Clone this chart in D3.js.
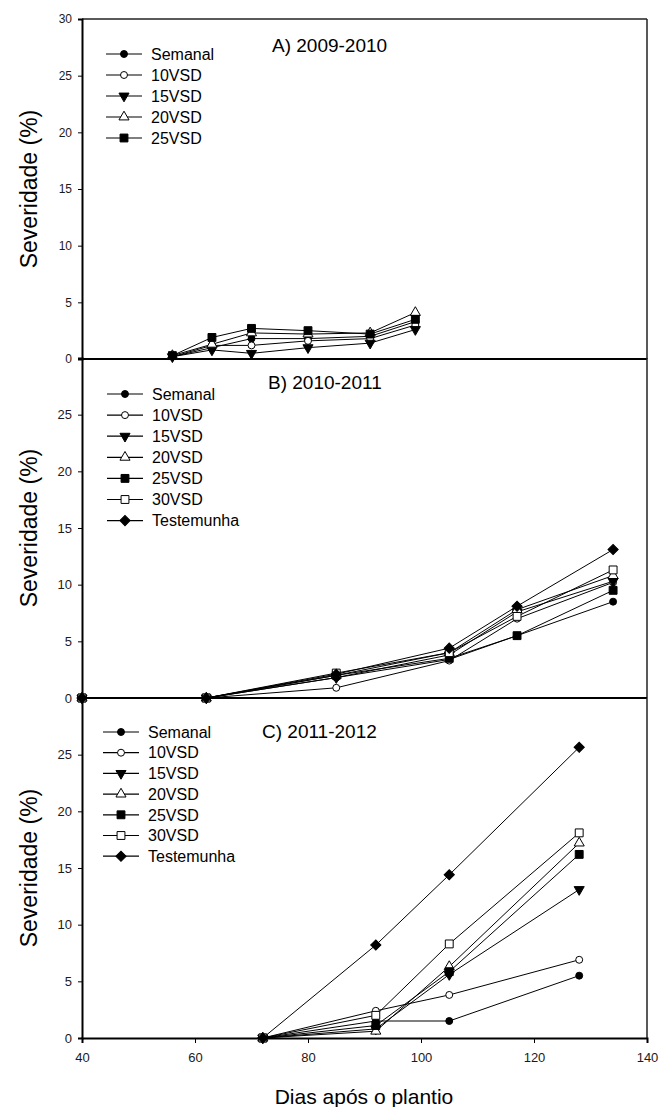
<!DOCTYPE html>
<html>
<head>
<meta charset="utf-8">
<script src="https://cdn.jsdelivr.net/npm/d3@7"></script>
<style>
  html, body { margin: 0; padding: 0; background: #fff; }
  svg { display: block; font-family: "Liberation Sans", Arial, sans-serif; }
</style>
</head>
<body>
<svg id="chart" width="659" height="1107"></svg>
<script>
// ---------- DATA ----------
const seriesNames = ["Semanal", "10VSD", "15VSD", "20VSD", "25VSD", "30VSD", "Testemunha"];
const seriesSymbols = ["circle", "circleOpen", "triDown", "triOpen", "square", "squareOpen", "diamond"];

const xTicks = [40, 60, 80, 100, 120, 140];
const yTicksA = [0, 5, 10, 15, 20, 25, 30];
const yTicksBC = [0, 5, 10, 15, 20, 25];

// Panel A) 2009-2010
const panelTitleA = "A) 2009-2010";
const daysA = [56, 63, 70, 80, 91, 99];
const valuesA = [
  [0.2, 1.0, 1.8, 1.8, 2.0, 3.3],   // Semanal
  [0.2, 1.2, 1.2, 1.6, 1.8, 3.0],   // 10VSD
  [0.2, 0.8, 0.5, 1.0, 1.4, 2.6],   // 15VSD
  [0.3, 1.3, 2.3, 2.2, 2.3, 4.1],   // 20VSD
  [0.3, 1.9, 2.7, 2.5, 2.2, 3.5]    // 25VSD
];

// Panel B) 2010-2011
const panelTitleB = "B) 2010-2011";
const daysB = [40, 62, 85, 105, 117, 134];
const valuesB = [
  [0, 0, 1.8, 3.4, 5.5, 8.5],    // Semanal
  [0, 0, 0.9, 3.3, 7.0, 10.2],   // 10VSD
  [0, 0, 1.8, 3.8, 7.6, 10.3],   // 15VSD
  [0, 0, 2.0, 4.0, 7.8, 10.8],   // 20VSD
  [0, 0, 2.0, 3.5, 5.5, 9.5],    // 25VSD
  [0, 0, 2.2, 4.0, 7.2, 11.3],   // 30VSD
  [0, 0, 2.1, 4.4, 8.1, 13.1]    // Testemunha
];

// Panel C) 2011-2012
const panelTitleC = "C) 2011-2012";
const daysC = [72, 92, 105, 128];
const valuesC = [
  [0, 1.5, 1.5, 5.5],     // Semanal
  [0, 2.4, 3.8, 6.9],     // 10VSD
  [0, 0.8, 5.6, 13.1],    // 15VSD
  [0, 0.6, 6.3, 17.2],    // 20VSD
  [0, 1.1, 5.85, 16.2],   // 25VSD
  [0, 2.0, 8.3, 18.1],    // 30VSD
  [0, 8.2, 14.4, 25.65]   // Testemunha
];

// ---------- LAYOUT ----------
const svg = d3.select("#chart");
const left = 82, right = 647;
const x = d3.scaleLinear().domain([40, 140]).range([left, right]);

const panels = [
  { title: panelTitleA, days: daysA, values: valuesA, top: 19, bottom: 359, ticks: yTicksA,
    titleX: 272, titleY: 52, legX: 106, legY: 54, legStep: 21, tickFont: 12 },
  { title: panelTitleB, days: daysB, values: valuesB, top: 358, bottom: 698, ticks: yTicksBC,
    titleX: 268, titleY: 389, legX: 107, legY: 394, legStep: 21.1, tickFont: 13 },
  { title: panelTitleC, days: daysC, values: valuesC, top: 698, bottom: 1038, ticks: yTicksBC,
    titleX: 262, titleY: 738, legX: 103, legY: 732, legStep: 20.7, tickFont: 13 }
];

function symbolPath(kind) {
  switch (kind) {
    case "circle": case "circleOpen": return d3.symbol().type(d3.symbolCircle).size(38)();
    case "triDown": case "triOpen": return d3.symbol().type(d3.symbolTriangle).size(44)();
    case "square": case "squareOpen": return d3.symbol().type(d3.symbolSquare).size(62)();
    case "diamond": return d3.symbol().type(d3.symbolSquare).size(52)();
  }
}
function symbolTransform(kind, px, py) {
  let t = `translate(${px},${py})`;
  if (kind === "triDown") t += " rotate(180)";
  if (kind === "diamond") t += " rotate(45)";
  return t;
}
function isOpen(kind) { return kind.endsWith("Open"); }

panels.forEach((p, pi) => {
  const y = d3.scaleLinear().domain([0, 30]).range([p.bottom, p.top]);
  const g = svg.append("g");

  // frame: right border (and top border for panel A)
  g.append("line").attr("x1", right).attr("x2", right).attr("y1", p.top).attr("y2", p.bottom)
    .attr("stroke", "#222").attr("stroke-width", 1.5);
  if (pi === 0) {
    g.append("line").attr("x1", left).attr("x2", right).attr("y1", p.top).attr("y2", p.top)
      .attr("stroke", "#222").attr("stroke-width", 1.5);
  }

  // y axis
  const yAxis = d3.axisLeft(y).tickValues(p.ticks).tickSize(4).tickPadding(6).tickFormat(d3.format("d"));
  const ya = g.append("g").attr("transform", `translate(${left},0)`).call(yAxis);
  ya.select(".domain").attr("stroke", "#000").attr("stroke-width", 2);
  ya.selectAll(".tick line").attr("stroke", "#000");
  ya.selectAll(".tick text").attr("font-size", p.tickFont).attr("fill", "#1a1a22")
    .attr("font-family", "'Liberation Sans', Arial, sans-serif");

  // x axis (bottom line); ticks/labels only on last panel
  if (pi === 2) {
    const xAxis = d3.axisBottom(x).tickValues(xTicks).tickSize(5).tickPadding(10).tickFormat(d3.format("d"));
    const xa = g.append("g").attr("transform", `translate(0,${p.bottom})`).call(xAxis);
    xa.select(".domain").attr("stroke", "#000").attr("stroke-width", 2);
    xa.selectAll(".tick line").attr("stroke", "#000");
    xa.selectAll(".tick text").attr("font-size", 13).attr("fill", "#1a1a22")
      .attr("font-family", "'Liberation Sans', Arial, sans-serif");
  } else {
    g.append("line").attr("x1", left).attr("x2", right).attr("y1", p.bottom).attr("y2", p.bottom)
      .attr("stroke", "#000").attr("stroke-width", 2);
  }

  // y axis title
  g.append("text")
    .attr("transform", `translate(37,${(p.top + p.bottom) / 2}) rotate(-90)`)
    .attr("text-anchor", "middle").attr("font-size", 23).attr("fill", "#000")
    .text("Severidade (%)");

  // panel title
  g.append("text").attr("x", p.titleX).attr("y", p.titleY)
    .attr("font-size", 19).attr("fill", "#000").text(p.title);

  // series lines
  const line = d3.line().x((d, i) => x(p.days[i])).y(d => y(d));
  p.values.forEach((vals, si) => {
    g.append("path").attr("d", line(vals)).attr("fill", "none")
      .attr("stroke", "#000").attr("stroke-width", 1);
  });
  // markers
  p.values.forEach((vals, si) => {
    const kind = seriesSymbols[si];
    g.selectAll(null).data(vals).enter().append("path")
      .attr("d", symbolPath(kind))
      .attr("transform", (d, i) => symbolTransform(kind, x(p.days[i]), y(d)))
      .attr("fill", isOpen(kind) ? "#fff" : "#000")
      .attr("stroke", "#000").attr("stroke-width", 1);
  });

  // legend
  p.values.forEach((vals, si) => {
    const kind = seriesSymbols[si];
    const ly = p.legY + si * p.legStep;
    g.append("line").attr("x1", p.legX).attr("x2", p.legX + 36).attr("y1", ly).attr("y2", ly)
      .attr("stroke", "#000").attr("stroke-width", 1.2);
    g.append("path").attr("d", symbolPath(kind))
      .attr("transform", symbolTransform(kind, p.legX + 18, ly))
      .attr("fill", isOpen(kind) ? "#fff" : "#000")
      .attr("stroke", "#000").attr("stroke-width", 1);
    g.append("text").attr("x", p.legX + 45).attr("y", ly).attr("dy", "0.36em")
      .attr("font-size", 16).attr("fill", "#000").text(seriesNames[si]);
  });
});

// x axis title
svg.append("text").attr("x", 364).attr("y", 1104).attr("text-anchor", "middle")
  .attr("font-size", 21).attr("fill", "#000").text("Dias após o plantio");
</script>
</body>
</html>
